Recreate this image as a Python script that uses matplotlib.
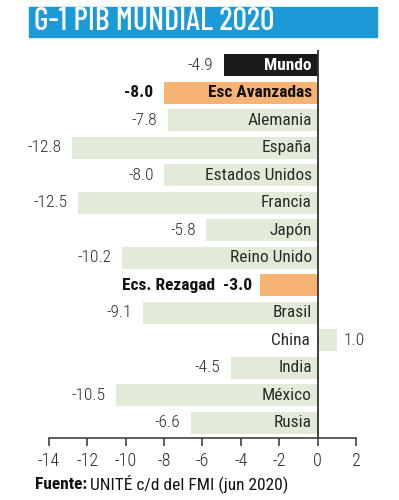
import numpy as np
import matplotlib
matplotlib.use("Agg")
import matplotlib.pyplot as plt

plt.rcParams["font.family"] = ["Roboto Condensed", "Barlow Semi Condensed",
                               "Liberation Sans Narrow", "DejaVu Sans"]

TITLE = "G-1 PIB MUNDIAL 2020"
SOURCE_BOLD = "Fuente:"
SOURCE_TEXT = "UNITÉ c/d del FMI (jun 2020)"

countries = ["Mundo", "Esc Avanzadas", "Alemania", "España", "Estados Unidos",
             "Francia", "Japón", "Reino Unido", "Ecs. Rezagad", "Brasil",
             "China", "India", "México", "Rusia"]
values = [-4.9, -8.0, -7.8, -12.8, -8.0, -12.5, -5.8, -10.2, -3.0, -9.1,
          1.0, -4.5, -10.5, -6.6]
kinds = ["world", "group", "c", "c", "c", "c", "c", "c", "group", "c",
         "c", "c", "c", "c"]
xticks = [-14, -12, -10, -8, -6, -4, -2, 0, 2]

COLORS = {"world": "#1a1a1a", "group": "#f6b374", "c": "#e1ebd7"}
TEXT = "#2b2b2b"
BLUE = "#1b9ad7"
FS = 12.5

fig = plt.figure(figsize=(3.99, 5.0), dpi=100)
ax = fig.add_axes([0.1228, 0.124, 0.7694, 0.776])

y = np.arange(len(countries))
ax.barh(y, values, height=0.8, color=[COLORS[k] for k in kinds], zorder=2)
ax.axvline(0, color="#333333", linewidth=1.3, zorder=3)

for yi, name, v, k in zip(y, countries, values, kinds):
    fmt = f"{v:.1f}"
    if k == "world":
        ax.text(-0.3, yi, name, ha="right", va="center", fontsize=FS,
                color="white", fontweight="bold", zorder=4)
        ax.text(v - 0.55, yi, fmt, ha="right", va="center", fontsize=FS,
                color=TEXT, fontweight="light", zorder=4)
    elif k == "group" and v < -5:
        ax.text(-0.3, yi, name, ha="right", va="center", fontsize=FS,
                color="#111111", fontweight="bold", zorder=4)
        ax.text(v - 0.55, yi, fmt, ha="right", va="center", fontsize=FS,
                color="#111111", fontweight="bold", zorder=4)
    elif k == "group":
        ax.text(v - 0.4, yi, f"{name}  {fmt}", ha="right", va="center",
                fontsize=FS, color="#111111", fontweight="bold", zorder=4)
    elif v > 0:
        ax.text(-0.4, yi, name, ha="right", va="center", fontsize=FS,
                color=TEXT, zorder=4)
        ax.text(v + 0.35, yi, fmt, ha="left", va="center", fontsize=FS,
                color=TEXT, fontweight="light", zorder=4)
    else:
        ax.text(-0.3, yi, name, ha="right", va="center", fontsize=FS,
                color=TEXT, zorder=4)
        ax.text(v - 0.55, yi, fmt, ha="right", va="center", fontsize=FS,
                color=TEXT, fontweight="light", zorder=4)

ax.set_xlim(-14, 2)
ax.set_ylim(13.55, -0.55)
ax.set_xticks(xticks)
ax.set_xticklabels([str(t) for t in xticks], fontsize=13, color=TEXT,
                   fontweight="light")
ax.set_yticks([])
ax.tick_params(axis="x", length=6, width=1.1, color="#333333", pad=4)
for s in ["top", "right", "left"]:
    ax.spines[s].set_visible(False)
ax.spines["bottom"].set_color("#333333")
ax.spines["bottom"].set_linewidth(1.1)

# title band
fig.patches.append(plt.Rectangle((29 / 399, 1 - 37 / 500), 348 / 399, 30 / 500,
                                  transform=fig.transFigure, color=BLUE, zorder=0))
fig.text(34 / 399, 1 - 22 / 500, TITLE, ha="left", va="center", fontsize=23,
         color="white", fontweight="medium",
         family=["Barlow Condensed", "Roboto Condensed", "DejaVu Sans"])

# source line, shared baseline
t1 = fig.text(35 / 399, 1 - 489 / 500, SOURCE_BOLD, ha="left", va="baseline",
              fontsize=12.5, fontweight="bold", color="#111111")
renderer = fig.canvas.get_renderer()
bb = t1.get_window_extent(renderer=renderer)
fig.text((bb.x1 + 3) / 399, 1 - 489 / 500, SOURCE_TEXT, ha="left", va="baseline",
         fontsize=12.5, color="#111111")

fig.savefig("out.png", dpi=100, facecolor="white")
